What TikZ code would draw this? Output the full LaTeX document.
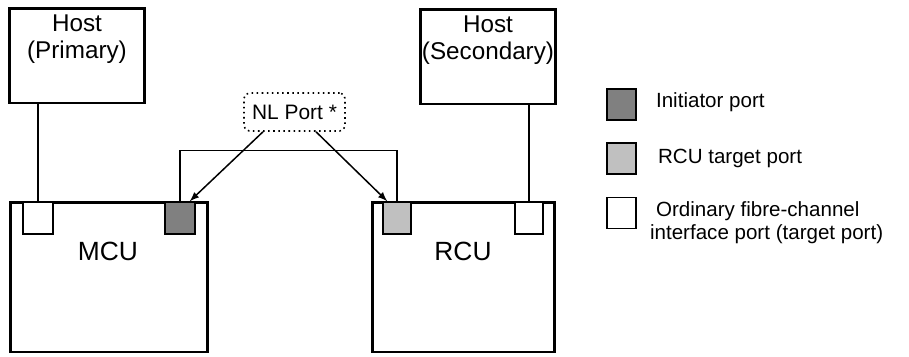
\documentclass[tikz,border=0pt]{standalone}
\usepackage{fontspec}
\setmainfont{Liberation Sans}
\usetikzlibrary{positioning}
\definecolor{initgray}{HTML}{808080}
\definecolor{rcugray}{HTML}{C0C0C0}
\tikzset{
  unitbox/.style={draw, line width=1.7pt, inner sep=0pt},
  portbox/.style={draw, line width=0.85pt, minimum width=0.6cm, minimum height=0.64cm, inner sep=0pt},
  link/.style={line width=0.85pt},
  hosttext/.style={align=center, font=\fontsize{13.8}{15.6}\selectfont, inner sep=0pt},
  keytext/.style={font=\fontsize{11.7}{13}\selectfont, inner sep=0pt, anchor=west}
}
\begin{document}
\begin{tikzpicture}[x=0.02cm,y=-0.02cm]
\useasboundingbox (0,0) rectangle (909,356);
% hosts
\node[unitbox, minimum width=2.72cm, minimum height=1.9cm] (hp) at (77,55.5) {};
\node[hosttext, below=0.16cm of hp.north] (hpt) {Host\\(Primary)};
\node[unitbox, minimum width=2.7cm, minimum height=1.9cm] (hs) at (488,56.5) {};
\node[hosttext, below=0.16cm of hs.north] (hst) {Host\\(Secondary)};
% control units
\node[unitbox, minimum width=3.96cm, minimum height=3cm] (mcu) at (109,277) {};
\node[font=\fontsize{15}{18}\selectfont] (mcut) at (108,251) {MCU};
\node[unitbox, minimum width=3.66cm, minimum height=3cm] (rcu) at (463.5,277) {};
\node[font=\fontsize{15}{18}\selectfont] (rcut) at (463,251) {RCU};
% ports
\node[portbox, fill=white] (mp) at (38,218) {};
\node[portbox, fill=initgray] (ip) at (180,218) {};
\node[portbox, fill=rcugray, minimum width=0.56cm] (tp) at (397,218) {};
\node[portbox, fill=white, minimum width=0.56cm] (sp) at (529,218) {};
\draw[link] (hp.south -| mp.north) -- (mp.north);
\draw[link] (hs.south -| sp.north) -- (sp.north);
\draw[link] (ip.north) -- ++(0,-51) -| (tp.north);
% NL port
\node[draw, dotted, line width=0.9pt, rounded corners=3pt, minimum width=2.02cm, minimum height=0.76cm, font=\fontsize{11.9}{14}\selectfont] (nl) at (294.5,112) {NL Port *};
\draw[link, -latex] ([xshift=-0.63cm]nl.south) -- ([xshift=-0.12cm]ip.north east);
\draw[link, -latex] ([xshift=0.43cm]nl.south) -- ([xshift=0.1cm]tp.north west);
% key
\node[portbox, fill=initgray, minimum width=0.58cm, minimum height=0.62cm] (k1) at (621.5,104.5) {};
\node[portbox, fill=rcugray, minimum width=0.58cm, minimum height=0.62cm] (k2) at (621.5,158.5) {};
\node[portbox, fill=white, minimum width=0.58cm, minimum height=0.62cm] (k3) at (621.5,213) {};
\node[keytext, right=0.38cm of k1, yshift=0.04cm] (k1t) {Initiator port};
\node[keytext, right=0.42cm of k2] (k2t) {RCU target port};
\node[keytext, align=left, right=0.26cm of k3, yshift=-0.2cm] (k3t) {\hspace{0.12cm}Ordinary fibre-channel\\interface port (target port)};
\end{tikzpicture}
\end{document}
